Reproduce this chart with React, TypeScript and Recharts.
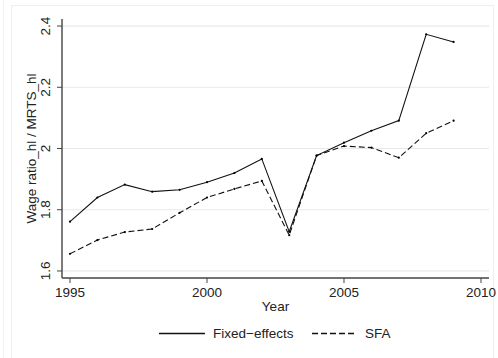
import { LineChart, Line, XAxis, YAxis, CartesianGrid } from 'recharts'

const years = [1995, 1996, 1997, 1998, 1999, 2000, 2001, 2002, 2003, 2004, 2005, 2006, 2007, 2008, 2009]
const fixedEffects = [1.761, 1.84, 1.882, 1.859, 1.865, 1.89, 1.92, 1.966, 1.728, 1.977, 2.019, 2.058, 2.091, 2.373, 2.348]
const sfa = [1.656, 1.701, 1.727, 1.737, 1.79, 1.84, 1.868, 1.894, 1.717, 1.977, 2.008, 2.003, 1.97, 2.05, 2.091]
const xTicks = [1995, 2000, 2005, 2010]
const yTicks = [1.6, 1.8, 2.0, 2.2, 2.4]

const data = years.map((year, i) => ({ year, fe: fixedEffects[i], sfa: sfa[i] }))

const FONT = "'Liberation Sans', Arial, sans-serif"
const TEXT = '#222'
const FS = 13.5

const XTick = ({ x, y, payload }: any) => (
  <text x={x} y={y} dy={11.5} textAnchor='middle' fontSize={FS} fontFamily={FONT} fill={TEXT}>
    {payload.value}
  </text>
)

const YTick = ({ x, y, payload }: any) => (
  <text
    x={x - 5}
    y={y}
    textAnchor='middle'
    fontSize={FS}
    fontFamily={FONT}
    fill={TEXT}
    transform={`rotate(-90, ${x - 5}, ${y})`}
  >
    {Number(payload.value).toString()}
  </text>
)

const App = () => {
  return (
    <div style={{ position: 'absolute', left: 0, top: 0, width: 498, height: 358, background: '#fff' }}>
      <svg width={498} height={358} style={{ position: 'absolute', left: 0, top: 0 }}>
        <line x1={3.5} y1={0} x2={3.5} y2={358} stroke='#f2f2f2' />
        <rect x={11.5} y={5.5} width={482} height={360} fill='none' stroke='#eeeeee' />
      </svg>
      <div style={{ position: 'absolute', left: 0, top: 0 }}>
        <LineChart width={498} height={358} data={data} margin={{ top: 19, right: 9, left: 0, bottom: 0 }}>
          <CartesianGrid horizontal vertical={false} stroke='#e8e8e8' strokeWidth={1.2} horizontalValues={yTicks} />
          <XAxis
            dataKey='year'
            type='number'
            domain={[1994.708, 2010.292]}
            ticks={xTicks}
            allowDataOverflow
            height={80}
            tickSize={5}
            tickLine={{ stroke: '#444' }}
            axisLine={{ stroke: '#444', strokeWidth: 1.4 }}
            tick={<XTick />}
            label={(props: any) => {
              const vb = props.viewBox
              return (
                <text x={vb.x + vb.width / 2} y={vb.y + 32.5} textAnchor='middle' fontSize={FS} fontFamily={FONT} fill={TEXT}>
                  Year
                </text>
              )
            }}
          />
          <YAxis
            type='number'
            domain={[1.577, 2.423]}
            ticks={yTicks}
            allowDataOverflow
            width={62}
            tickSize={5}
            tickLine={{ stroke: '#444' }}
            axisLine={{ stroke: '#444', strokeWidth: 1.4 }}
            tick={<YTick />}
            label={(props: any) => {
              const vb = props.viewBox
              const cx = 36
              const cy = vb.y + vb.height / 2
              return (
                <text
                  x={cx}
                  y={cy}
                  textAnchor='middle'
                  fontSize={FS}
                  fontFamily={FONT}
                  fill={TEXT}
                  transform={`rotate(-90, ${cx}, ${cy})`}
                >
                  Wage ratio_hl / MRTS_hl
                </text>
              )
            }}
          />
          <Line
            type='linear'
            dataKey='fe'
            stroke='#111'
            strokeWidth={1.1}
            dot={{ r: 1.1, fill: '#000', stroke: 'none' }}
            isAnimationActive={false}
          />
          <Line
            type='linear'
            dataKey='sfa'
            stroke='#111'
            strokeWidth={1.1}
            strokeDasharray='6 3'
            dot={{ r: 1.1, fill: '#000', stroke: 'none' }}
            isAnimationActive={false}
          />
        </LineChart>
      </div>
      <svg width={498} height={358} style={{ position: 'absolute', left: 0, top: 0, pointerEvents: 'none' }}>
        <line x1={159} y1={333.5} x2={205} y2={333.5} stroke='#111' strokeWidth={1.3} />
        <text x={213} y={338} fontSize={FS} fontFamily={FONT} fill={TEXT}>
          Fixed−effects
        </text>
        <line x1={312} y1={333.5} x2={357} y2={333.5} stroke='#111' strokeWidth={1.3} strokeDasharray='6 3' />
        <text x={365} y={338} fontSize={FS} fontFamily={FONT} fill={TEXT}>
          SFA
        </text>
      </svg>
    </div>
  )
}

export default App
